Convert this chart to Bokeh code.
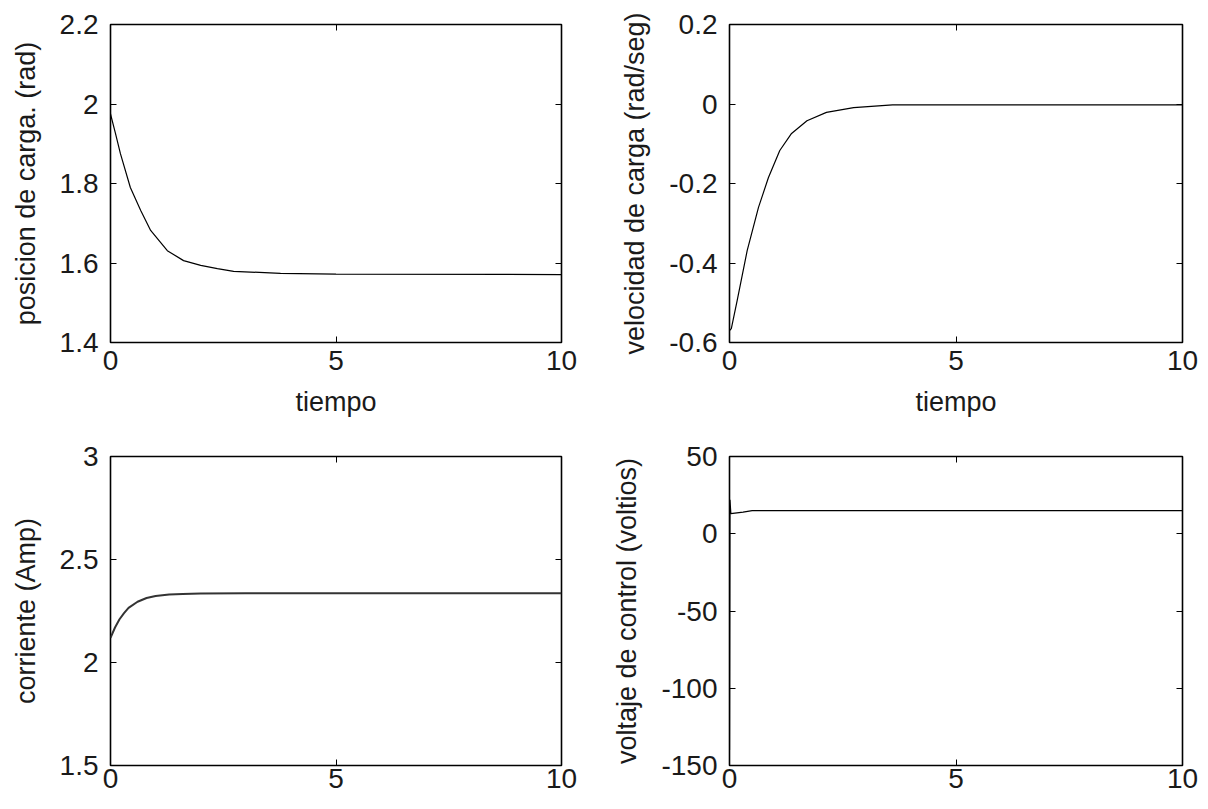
from bokeh.plotting import figure
from bokeh.models import LinearAxis, FixedTicker, Range1d
from bokeh.layouts import column, row
from bokeh.embed import file_html
from bokeh.resources import INLINE

# ---------------- data ----------------
t_pos = [0.0, 0.11, 0.22, 0.44, 0.67, 0.89, 1.26, 1.62, 2.0, 2.37, 2.73, 3.77, 5.0, 10.0]
pos = [1.975, 1.926, 1.875, 1.790, 1.732, 1.682, 1.631, 1.606, 1.594, 1.586, 1.579, 1.574, 1.572, 1.571]

t_vel = [0.0, 0.04, 0.17, 0.39, 0.64, 0.86, 1.11, 1.37, 1.71, 2.14, 2.74, 3.6, 5.0, 10.0]
vel = [-0.57, -0.565, -0.494, -0.369, -0.260, -0.185, -0.117, -0.074, -0.042, -0.021, -0.009, -0.002, -0.002, -0.002]

t_cur = [0.0, 0.1, 0.2, 0.3, 0.4, 0.6, 0.8, 1.0, 1.3, 1.6, 2.0, 3.0, 10.0]
cur = [2.12, 2.17, 2.21, 2.24, 2.265, 2.295, 2.313, 2.323, 2.330, 2.333, 2.335, 2.336, 2.336]

t_vol = [0.0, 0.01, 0.03, 0.3, 0.5, 10.0]
vol = [-140.0, 22.0, 13.0, 14.0, 15.0, 15.0]

time_ticks = [0, 5, 10]
time_labels = ["0", "5", "10"]
pos_ticks = [1.4, 1.6, 1.8, 2.0, 2.2]
pos_labels = ["1.4", "1.6", "1.8", "2", "2.2"]
vel_ticks = [-0.6, -0.4, -0.2, 0.0, 0.2]
vel_labels = ["-0.6", "-0.4", "-0.2", "0", "0.2"]
cur_ticks = [1.5, 2.0, 2.5, 3.0]
cur_labels = ["1.5", "2", "2.5", "3"]
vol_ticks = [-150, -100, -50, 0, 50]
vol_labels = ["-150", "-100", "-50", "0", "50"]

FONT = "Liberation Sans"
TXT = "#1a1a1a"


def make_fig(x, y, yr, yticks, ylabels, ylab, xlab, bl, br, bt, bb, fw, fh,
             xstand=8, lw=1.2, lcolor="black"):
    p = figure(frame_width=fw, frame_height=fh, output_backend="svg", toolbar_location=None,
               x_range=Range1d(0, 10), y_range=Range1d(*yr),
               min_border_left=bl, min_border_right=br, min_border_top=bt, min_border_bottom=bb,
               x_axis_location=None, y_axis_location=None)
    p.background_fill_color = "white"
    p.border_fill_color = "white"
    p.outline_line_color = "black"
    p.outline_line_width = 1.6
    p.grid.visible = False

    xb = LinearAxis(ticker=FixedTicker(ticks=time_ticks),
                    major_label_overrides=dict(zip(time_ticks, time_labels)))
    yl = LinearAxis(ticker=FixedTicker(ticks=yticks),
                    major_label_overrides=dict(zip(yticks, ylabels)))
    xt = LinearAxis(ticker=FixedTicker(ticks=time_ticks))
    yrgt = LinearAxis(ticker=FixedTicker(ticks=yticks))
    for ax in (xb, yl, xt, yrgt):
        ax.major_tick_in = 6
        ax.major_tick_out = 0
        ax.minor_tick_line_color = None
        ax.major_tick_line_color = "black"
        ax.major_tick_line_width = 1
        ax.axis_line_color = None
        ax.major_label_text_font = FONT
        ax.major_label_text_font_size = "28px"
        ax.major_label_text_color = TXT
        ax.axis_label_text_font = FONT
        ax.axis_label_text_font_style = "normal"
        ax.axis_label_text_font_size = "27px"
        ax.axis_label_text_color = TXT
    for ax in (xt, yrgt):
        ax.major_label_text_color = None
        ax.major_label_text_font_size = "1px"
        ax.major_label_standoff = 0
    xb.major_label_standoff = xstand
    yl.major_label_standoff = 12
    if xlab:
        xb.axis_label = xlab
        xb.axis_label_standoff = 14
    yl.axis_label = ylab
    yl.axis_label_standoff = 16
    p.add_layout(xb, "below")
    p.add_layout(yl, "left")
    p.add_layout(xt, "above")
    p.add_layout(yrgt, "right")

    p.line(x, y, line_color=lcolor, line_width=lw)
    return p


p1 = make_fig(t_pos, pos, (1.4, 2.2), pos_ticks, pos_labels, "posicion de carga. (rad)", "tiempo",
              110, 47, 24, 86, 451, 318)
p2 = make_fig(t_vel, vel, (-0.6, 0.2), vel_ticks, vel_labels, "velocidad de carga (rad/seg)", "tiempo",
              121, 18, 24, 86, 453, 318)
p3 = make_fig(t_cur, cur, (1.5, 3.0), cur_ticks, cur_labels, "corriente (Amp)", None,
              110, 47, 28, 36, 451, 309, xstand=3, lw=2, lcolor="#333333")
p4 = make_fig(t_vol, vol, (-150, 50), vol_ticks, vol_labels, "voltaje de control (voltios)", None,
              121, 18, 28, 36, 453, 309, xstand=3)

layout = column(row(p1, p2, spacing=0), row(p3, p4, spacing=0), spacing=0)

open("out.html", "w").write(file_html(layout, INLINE))
